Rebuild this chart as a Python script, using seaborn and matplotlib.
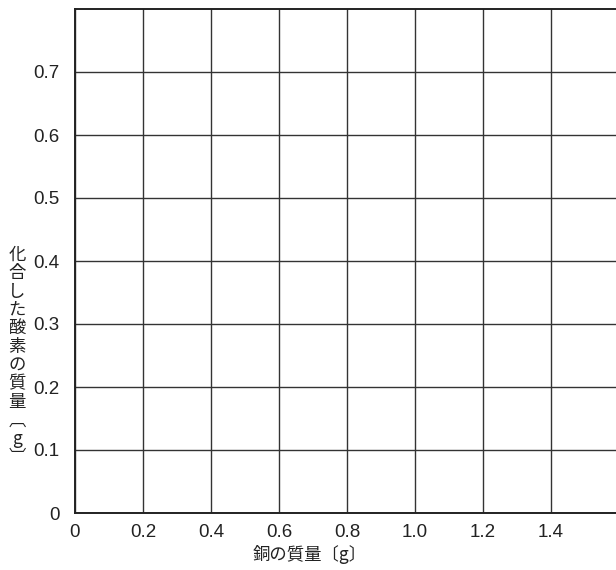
import numpy as np
import pandas as pd
import matplotlib
matplotlib.use('Agg')
import matplotlib.pyplot as plt
import seaborn as sns

# tick values / labels (empty grid worksheet)
x_ticks = [0, 0.2, 0.4, 0.6, 0.8, 1.0, 1.2, 1.4]
x_labels = ['0', '0.2', '0.4', '0.6', '0.8', '1.0', '1.2', '1.4']
y_ticks = [0, 0.1, 0.2, 0.3, 0.4, 0.5, 0.6, 0.7]
y_labels = ['0', '0.1', '0.2', '0.3', '0.4', '0.5', '0.6', '0.7']
x_title = '銅の質量〔g〕'
y_title = ['化', '合', 'し', 'た', '酸', '素', 'の', '質', '量', '︹', 'g', '︺']

sns.set_theme(style='white')
plt.rcParams['font.family'] = ['Liberation Sans', 'Noto Sans CJK JP', 'DejaVu Sans']
cjk = ['Noto Sans CJK JP', 'Liberation Sans']

fig = plt.figure(figsize=(6.16, 5.7), dpi=100)
ax = fig.add_axes([75/616, 57/570, 541/616, 504/570])

# empty frame for plotting (no data series)
df = pd.DataFrame({'x': [], 'y': []})
sns.lineplot(data=df, x='x', y='y', ax=ax)

ax.set_xlim(0, 1.591)
ax.set_ylim(0, 0.8)
ax.set_xticks(x_ticks)
ax.set_xticklabels(x_labels)
ax.set_yticks(y_ticks)
ax.set_yticklabels(y_labels)
ax.tick_params(axis='both', length=0, labelsize=13.5, colors='#222222')
ax.tick_params(axis='x', pad=8)
ax.tick_params(axis='y', pad=11)

ax.grid(True, color='#333333', linewidth=1.0)
for side in ['left', 'bottom', 'top']:
    ax.spines[side].set_color('#222222')
    ax.spines[side].set_linewidth(1.4)
ax.spines['right'].set_visible(False)

ax.set_xlabel('')
ax.set_ylabel('')
fig.text(310/616, 1 - 554/570, x_title, ha='center', va='center',
         fontsize=12.5, color='#222222', family=cjk)
fig.text(17/616, 1 - 356/570, '\n'.join(y_title), ha='center', va='center',
         fontsize=12.5, color='#222222', linespacing=1.03, family=cjk)

fig.savefig('out.png', dpi=100)
